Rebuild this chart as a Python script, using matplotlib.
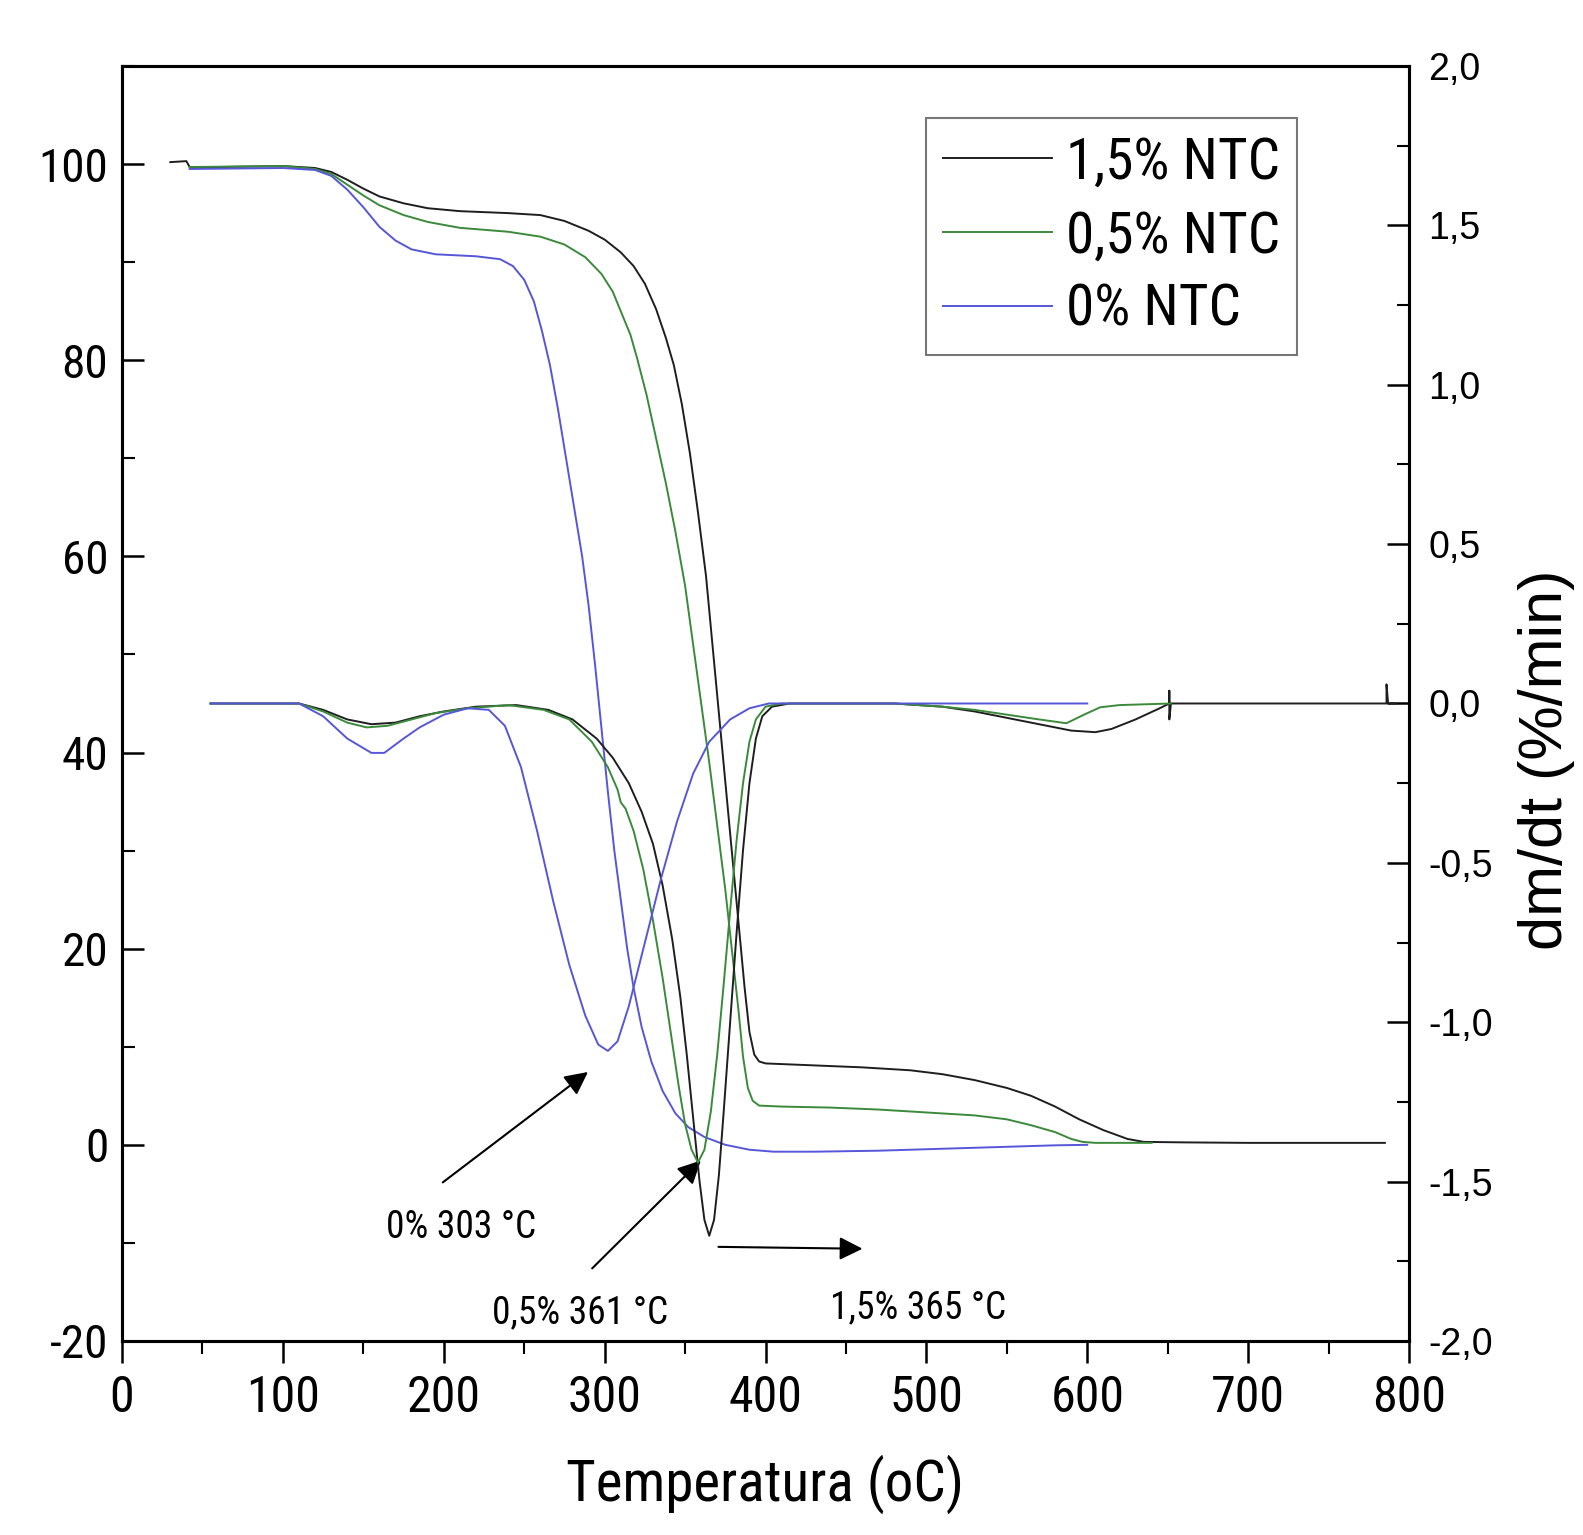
import numpy as np
import matplotlib
matplotlib.use("Agg")
import matplotlib.pyplot as plt
from matplotlib import font_manager
from matplotlib.ticker import MultipleLocator, FuncFormatter

# look for a condensed sans (the original lettering is narrow)
fonts = font_manager.fontManager.ttflist
wanted = ['Liberation Sans Narrow', 'Arial Narrow', 'Roboto Condensed', 'Noto Sans Condensed',
          'Open Sans Condensed', 'DejaVu Sans Condensed', 'Noto Sans SemiCondensed']
pick = None
for w in wanted:
    for f in fonts:
        if f.name == w and f.style == 'normal' and f.weight in (400, 'normal', 'regular'):
            pick = f
            break
    if pick:
        break
if pick is None:
    for f in fonts:
        if f.stretch in ('condensed', 'semi-condensed') and f.style == 'normal' \
                and f.weight in (400, 'normal', 'regular') and 'Mono' not in f.name \
                and 'Serif' not in f.name and 'CJK' not in f.name:
            pick = f
            break
if pick is not None:
    plt.rcParams['font.family'] = [pick.name, 'DejaVu Sans']
    plt.rcParams['font.stretch'] = pick.stretch
else:
    plt.rcParams['font.family'] = ['Liberation Sans', 'DejaVu Sans']
plt.rcParams['axes.unicode_minus'] = False

labels = ['1,5% NTC', '0,5% NTC', '0% NTC']
colors = ['#1e1e1e', '#3b8a3b', '#5656d8']

# TGA, mass (%) vs temperature
tga15_x = [30, 40, 42, 60, 100, 120, 130, 140, 150, 160, 175, 190, 210, 240, 260, 275, 290, 300,
           310, 318, 325, 332, 338, 343, 348, 353, 358, 363, 367, 371, 375, 379, 383, 387, 390,
           393, 396, 400, 430, 460, 490, 510, 530, 550, 565, 580, 595, 610, 625, 635, 660, 700,
           750, 785]
tga15_y = [100.2, 100.3, 99.7, 99.7, 99.8, 99.6, 99.2, 98.4, 97.5, 96.7, 96.0, 95.5, 95.2, 95.0,
           94.8, 94.2, 93.2, 92.3, 91.0, 89.6, 87.8, 85.2, 82.3, 79.5, 75.5, 70.5, 64.5, 58, 51,
           44, 37, 30, 23, 16, 11.5, 9.2, 8.5, 8.3, 8.1, 7.9, 7.6, 7.2, 6.6, 5.8, 5.0, 3.9, 2.6,
           1.5, 0.6, 0.3, 0.25, 0.2, 0.2, 0.2]

tga05_x = [42, 100, 120, 130, 140, 150, 160, 175, 190, 210, 240, 260, 275, 288, 298, 305, 310,
           313, 316, 320, 326, 332, 338, 344, 350, 355, 360, 365, 370, 375, 379, 383, 386, 389,
           392, 396, 410, 440, 470, 500, 530, 550, 565, 580, 590, 597, 605, 640]
tga05_y = [99.7, 99.8, 99.5, 99.0, 97.9, 96.8, 95.8, 94.8, 94.1, 93.5, 93.1, 92.6, 91.8, 90.5,
           88.8, 87.0, 85.0, 83.8, 82.6, 80.3, 76.5, 72.0, 67.5, 62.5, 57, 51, 45, 39, 32.5, 26,
           20, 14, 9, 5.8, 4.5, 4.0, 3.9, 3.8, 3.6, 3.3, 3.0, 2.6, 2.0, 1.3, 0.6, 0.3, 0.2, 0.2]

tga00_x = [42, 100, 120, 130, 140, 150, 160, 170, 180, 195, 220, 235, 243, 250, 256, 261, 266,
           271, 276, 281, 286, 290, 294, 298, 302, 306, 310, 314, 318, 323, 329, 336, 344, 352,
           362, 375, 390, 405, 430, 470, 510, 550, 580, 600]
tga00_y = [99.5, 99.6, 99.4, 98.8, 97.4, 95.6, 93.6, 92.2, 91.3, 90.8, 90.6, 90.3, 89.6, 88.2,
           86.0, 83.0, 79.5, 75, 70, 65, 60, 55, 49, 42.5, 36, 30, 25, 20, 16, 12, 8.5, 5.5, 3.2,
           1.8, 0.8, 0.0, -0.5, -0.7, -0.7, -0.6, -0.4, -0.2, -0.05, 0.0]

# DTG, dm/dt (%/min) vs temperature
dtg15_x = [55, 110, 125, 140, 155, 170, 185, 200, 220, 245, 265, 280, 295, 305, 315, 323, 330,
           336, 342, 347, 351, 355, 359, 362, 365, 368, 371, 374, 378, 382, 386, 390, 394, 398,
           404, 415, 480, 510, 530, 550, 570, 590, 605, 615, 630, 645, 651, 651, 651, 652, 700,
           786, 786, 787, 792]
dtg15_y = [0.0, 0.0, -0.02, -0.05, -0.065, -0.06, -0.04, -0.025, -0.01, -0.005, -0.02, -0.05,
           -0.11, -0.17, -0.25, -0.34, -0.44, -0.57, -0.74, -0.92, -1.1, -1.3, -1.5, -1.62, -1.67,
           -1.62, -1.48, -1.28, -1.0, -0.72, -0.46, -0.25, -0.11, -0.04, -0.01, 0.0, 0.0, -0.01,
           -0.025, -0.045, -0.065, -0.085, -0.09, -0.08, -0.05, -0.015, 0.0, 0.04, -0.05, 0.0,
           0.0, 0.0, 0.06, 0.0, 0.0]

dtg05_x = [55, 110, 125, 140, 152, 165, 180, 195, 215, 240, 262, 278, 292, 302, 308, 310, 313,
           318, 324, 330, 336, 341, 346, 350, 354, 358, 362, 366, 370, 374, 378, 382, 386, 390,
           394, 400, 410, 480, 510, 530, 550, 570, 587, 598, 608, 620, 652]
dtg05_y = [0.0, 0.0, -0.025, -0.06, -0.075, -0.07, -0.05, -0.03, -0.015, -0.005, -0.02, -0.05,
           -0.12, -0.2, -0.27, -0.31, -0.33, -0.4, -0.52, -0.68, -0.86, -1.03, -1.2, -1.32, -1.4,
           -1.44, -1.4, -1.28, -1.1, -0.88, -0.65, -0.43, -0.25, -0.12, -0.05, -0.01, 0.0, 0.0,
           -0.01, -0.02, -0.035, -0.05, -0.062, -0.035, -0.012, -0.005, 0.0]

dtg00_x = [55, 110, 125, 140, 155, 163, 175, 185, 200, 215, 228, 238, 248, 258, 268, 278, 288,
           296, 302, 308, 315, 325, 335, 345, 355, 365, 378, 390, 402, 600]
dtg00_y = [0.0, 0.0, -0.04, -0.11, -0.155, -0.155, -0.11, -0.075, -0.035, -0.015, -0.02, -0.07,
           -0.2, -0.4, -0.62, -0.82, -0.98, -1.07, -1.09, -1.06, -0.95, -0.75, -0.55, -0.37,
           -0.22, -0.12, -0.05, -0.015, 0.0, 0.0]

fig = plt.figure(figsize=(15.83, 15.35), dpi=100)
ax = fig.add_axes([0.0771, 0.1264, 0.813, 0.8306])
ax2 = ax.twinx()

lw = 1.4
ax.plot(tga15_x, tga15_y, color=colors[0], lw=lw, label=labels[0])
ax.plot(tga05_x, tga05_y, color=colors[1], lw=lw, label=labels[1])
ax.plot(tga00_x, tga00_y, color=colors[2], lw=lw, label=labels[2])
ax2.plot(dtg15_x, dtg15_y, color=colors[0], lw=lw)
ax2.plot(dtg05_x, dtg05_y, color=colors[1], lw=lw)
ax2.plot(dtg00_x, dtg00_y, color=colors[2], lw=lw)

ax.set_xlim(0, 800)
ax.set_ylim(-20, 110)
ax2.set_ylim(-2, 2)

ax.xaxis.set_major_locator(MultipleLocator(100))
ax.xaxis.set_minor_locator(MultipleLocator(50))
ax.yaxis.set_major_locator(MultipleLocator(20))
ax.yaxis.set_minor_locator(MultipleLocator(10))
ax2.yaxis.set_major_locator(MultipleLocator(0.5))
ax2.yaxis.set_minor_locator(MultipleLocator(0.25))
ax2.yaxis.set_major_formatter(FuncFormatter(lambda v, p: ('%.1f' % v).replace('.', ',')))

for a in (ax, ax2):
    for s in a.spines.values():
        s.set_linewidth(2.2)
ax.tick_params(axis='x', which='major', direction='out', length=16, width=1.8, labelsize=36, pad=8)
ax.tick_params(axis='x', which='minor', direction='out', length=9, width=1.5)
ax.tick_params(axis='y', which='major', direction='in', length=16, width=1.8, labelsize=34, pad=10)
ax.tick_params(axis='y', which='minor', direction='in', length=9, width=1.5)
ax2.tick_params(axis='y', which='major', direction='in', length=16, width=1.8, labelsize=27, pad=14)
ax2.tick_params(axis='y', which='minor', direction='in', length=9, width=1.5)
for t in ax2.get_yticklabels():
    t.set_family('Liberation Sans')
    t.set_stretch('normal')

fig.text(0.483, 0.033, 'Temperatura (oC)', fontsize=41, ha='center', va='center')
fig.text(0.977, 0.505, 'dm/dt (%/min)', fontsize=44, rotation=90, ha='center', va='center',
         family='Liberation Sans', stretch='normal')

leg = ax.legend(loc='upper right', bbox_to_anchor=(0.913, 0.959), borderaxespad=0,
                fontsize=41, frameon=True, fancybox=False, handlelength=1.9,
                handletextpad=0.25, labelspacing=0.33, borderpad=0.3)
leg.get_frame().set_edgecolor('#555555')
leg.get_frame().set_linewidth(1.5)

# peak annotations
arrow = dict(arrowstyle='-|>', color='k', lw=1.5, mutation_scale=35)
ax.annotate('', xy=(291, 7.6), xytext=(198, -4.0), arrowprops=arrow)
ax.annotate('', xy=(361, -1.4), xytext=(291, -12.8), arrowprops=arrow)
ax.annotate('', xy=(462, -10.6), xytext=(369, -10.4), arrowprops=arrow)
ax.text(211, -8.4, '0% 303 °C', fontsize=27, ha='center', va='center')
ax.text(285, -17.1, '0,5% 361 °C', fontsize=27, ha='center', va='center')
ax.text(495, -16.6, '1,5% 365 °C', fontsize=27, ha='center', va='center')

fig.savefig('out.png', dpi=100)
